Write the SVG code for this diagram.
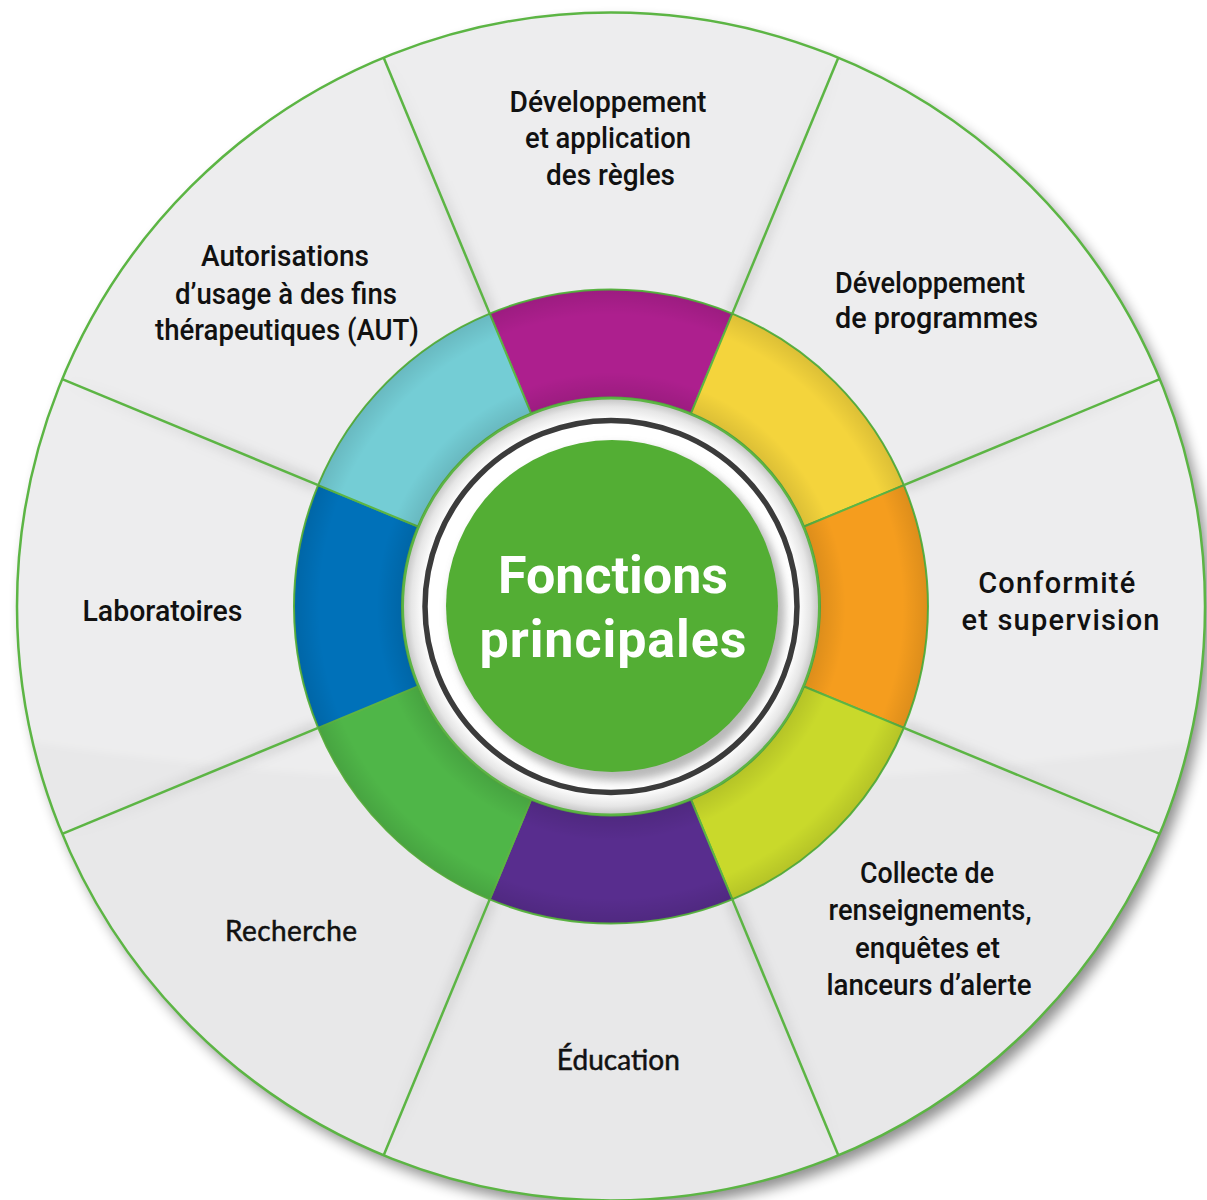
<svg xmlns="http://www.w3.org/2000/svg" width="1207" height="1200" viewBox="0 0 1207 1200">
<defs>
<style>
.lbl{font-family:Roboto,"DejaVu Sans",sans-serif;font-size:29px;font-weight:500;fill:#111;text-anchor:middle}
.lato{font-family:Lato,"Open Sans",sans-serif;font-size:28px;font-weight:400;fill:#111;stroke:#111;stroke-width:0.5;text-anchor:middle}
.title{font-family:Roboto,"DejaVu Sans",sans-serif;font-size:52px;font-weight:700;fill:#fff;text-anchor:middle}
.spoke{stroke:#5cb544;stroke-width:2.5;fill:none}
.seg{stroke:#5cb544;stroke-width:2}
.sh{stroke:#000;stroke-width:9;stroke-opacity:0.16}
</style>
<filter id="dshadow" x="-10%" y="-10%" width="125%" height="125%">
<feGaussianBlur in="SourceAlpha" stdDeviation="7"/>
<feOffset dx="6" dy="8" result="o"/>
<feComponentTransfer><feFuncA type="linear" slope="0.45"/></feComponentTransfer>
<feMerge><feMergeNode/><feMergeNode in="SourceGraphic"/></feMerge>
</filter>
<filter id="blur6" x="-20%" y="-20%" width="140%" height="140%"><feGaussianBlur stdDeviation="6"/></filter>
<filter id="blur4" x="-20%" y="-20%" width="140%" height="140%"><feGaussianBlur stdDeviation="4"/></filter>
<filter id="blur3" x="-20%" y="-20%" width="140%" height="140%"><feGaussianBlur stdDeviation="3"/></filter>
<clipPath id="discClip"><circle cx="611" cy="606.5" r="594"/></clipPath>
<clipPath id="innerBand"><circle cx="611" cy="606.5" r="183"/></clipPath>
<radialGradient id="fadeGrad" gradientUnits="userSpaceOnUse" cx="611" cy="606.5" r="594">
<stop offset="0.53" stop-color="#fff"/><stop offset="1" stop-color="#000"/>
</radialGradient>
<mask id="fade"><circle cx="611" cy="606.5" r="594" fill="url(#fadeGrad)"/></mask>
<radialGradient id="ringShade" gradientUnits="userSpaceOnUse" cx="611" cy="606.5" r="317">
<stop offset="0.66" stop-color="#000" stop-opacity="0.1"/>
<stop offset="0.74" stop-color="#000" stop-opacity="0"/>
<stop offset="0.92" stop-color="#000" stop-opacity="0"/>
<stop offset="1" stop-color="#000" stop-opacity="0.1"/>
</radialGradient>
<radialGradient id="discGrad" gradientUnits="userSpaceOnUse" cx="611" cy="606.5" r="208">
<stop offset="0" stop-color="#fff"/>
<stop offset="0.9" stop-color="#fff"/>
<stop offset="0.96" stop-color="#e6e6e6"/>
<stop offset="1" stop-color="#c4c4c4"/>
</radialGradient>
</defs>

<g id="background">
<circle cx="611" cy="606.5" r="594" fill="#e8e8e9" filter="url(#dshadow)"/>
<g clip-path="url(#discClip)">
<ellipse cx="611" cy="150" rx="1600" ry="635" fill="#fff" fill-opacity="0.22" filter="url(#blur3)"/>
</g>
<g mask="url(#fade)" filter="url(#blur6)">
<line class="sh" x1="489.69" y1="313.63" x2="383.69" y2="57.72"/>
<line class="sh" x1="732.31" y1="313.63" x2="838.31" y2="57.72"/>
<line class="sh" x1="903.87" y1="485.19" x2="1159.78" y2="379.19"/>
<line class="sh" x1="903.87" y1="727.81" x2="1159.78" y2="833.81"/>
<line class="sh" x1="732.31" y1="899.37" x2="838.31" y2="1155.28"/>
<line class="sh" x1="489.69" y1="899.37" x2="383.69" y2="1155.28"/>
<line class="sh" x1="318.13" y1="727.81" x2="62.22" y2="833.81"/>
<line class="sh" x1="318.13" y1="485.19" x2="62.22" y2="379.19"/>
</g>
</g>

<g id="connectors">
<line class="spoke" x1="489.69" y1="313.63" x2="383.69" y2="57.72"/>
<line class="spoke" x1="732.31" y1="313.63" x2="838.31" y2="57.72"/>
<line class="spoke" x1="903.87" y1="485.19" x2="1159.78" y2="379.19"/>
<line class="spoke" x1="903.87" y1="727.81" x2="1159.78" y2="833.81"/>
<line class="spoke" x1="732.31" y1="899.37" x2="838.31" y2="1155.28"/>
<line class="spoke" x1="489.69" y1="899.37" x2="383.69" y2="1155.28"/>
<line class="spoke" x1="318.13" y1="727.81" x2="62.22" y2="833.81"/>
<line class="spoke" x1="318.13" y1="485.19" x2="62.22" y2="379.19"/>
<circle class="spoke" cx="611" cy="606.5" r="594"/>
</g>

<g id="node-regles">
<path class="seg" fill="#ad1f8e" d="M489.69 313.63 A317 317 0 0 1 732.31 313.63 L690.98 413.41 A209 209 0 0 0 531.02 413.41 Z"/>
<text class="lbl" font-size="30" x="608" y="111.7" textLength="197" lengthAdjust="spacingAndGlyphs">Développement</text>
<text class="lbl" font-size="30" x="608" y="148.3" textLength="166" lengthAdjust="spacingAndGlyphs">et application</text>
<text class="lbl" font-size="30" x="610.5" y="185" textLength="129" lengthAdjust="spacingAndGlyphs">des règles</text>
</g>

<g id="node-programmes">
<path class="seg" fill="#f4d43c" d="M732.31 313.63 A317 317 0 0 1 903.87 485.19 L804.09 526.52 A209 209 0 0 0 690.98 413.41 Z"/>
<text class="lbl" font-size="28" x="835" y="293.3" style="text-anchor:start" textLength="190" lengthAdjust="spacingAndGlyphs">Développement</text>
<text class="lbl" font-size="28" x="835" y="328.3" style="text-anchor:start" textLength="203" lengthAdjust="spacingAndGlyphs">de programmes</text>
</g>

<g id="node-conformite">
<path class="seg" fill="#f59d1e" d="M903.87 485.19 A317 317 0 0 1 903.87 727.81 L804.09 686.48 A209 209 0 0 0 804.09 526.52 Z"/>
<text class="lbl" font-size="28" x="1056.7" y="593.3" textLength="157" lengthAdjust="spacing">Conformité</text>
<text class="lbl" font-size="28" x="1060.5" y="630" textLength="198" lengthAdjust="spacing">et supervision</text>
</g>

<g id="node-collecte">
<path class="seg" fill="#c9d92b" d="M903.87 727.81 A317 317 0 0 1 732.31 899.37 L690.98 799.59 A209 209 0 0 0 804.09 686.48 Z"/>
<text class="lbl" x="927" y="883.3" textLength="134" lengthAdjust="spacingAndGlyphs">Collecte de</text>
<text class="lbl" x="930" y="920" textLength="203" lengthAdjust="spacingAndGlyphs">renseignements,</text>
<text class="lbl" x="927.5" y="958.3" textLength="145" lengthAdjust="spacingAndGlyphs">enquêtes et</text>
<text class="lbl" x="929" y="995" textLength="205" lengthAdjust="spacingAndGlyphs">lanceurs d’alerte</text>
</g>

<g id="node-education">
<path class="seg" fill="#582d8e" d="M732.31 899.37 A317 317 0 0 1 489.69 899.37 L531.02 799.59 A209 209 0 0 0 690.98 799.59 Z"/>
<text class="lato" x="618.3" y="1070" textLength="123" lengthAdjust="spacing">Éducation</text>
</g>

<g id="node-recherche">
<path class="seg" fill="#4fb648" d="M489.69 899.37 A317 317 0 0 1 318.13 727.81 L417.91 686.48 A209 209 0 0 0 531.02 799.59 Z"/>
<text class="lato" x="291" y="940.7" textLength="132" lengthAdjust="spacing">Recherche</text>
</g>

<g id="node-laboratoires">
<path class="seg" fill="#0071b9" d="M318.13 727.81 A317 317 0 0 1 318.13 485.19 L417.91 526.52 A209 209 0 0 0 417.91 686.48 Z"/>
<text class="lbl" x="162.5" y="621" textLength="160" lengthAdjust="spacingAndGlyphs">Laboratoires</text>
</g>

<g id="node-aut">
<path class="seg" fill="#74cdd5" d="M318.13 485.19 A317 317 0 0 1 489.69 313.63 L531.02 413.41 A209 209 0 0 0 417.91 526.52 Z"/>
<text class="lbl" x="285" y="266" textLength="168" lengthAdjust="spacingAndGlyphs">Autorisations</text>
<text class="lbl" x="286" y="304" textLength="222" lengthAdjust="spacingAndGlyphs">d’usage à des fins</text>
<text class="lbl" x="287" y="340" textLength="264" lengthAdjust="spacingAndGlyphs">thérapeutiques (AUT)</text>
</g>

<g id="ring-shading">
<circle cx="611" cy="606.5" r="263" fill="none" stroke="url(#ringShade)" stroke-width="108"/>
</g>

<g id="center">
<circle cx="611" cy="606.5" r="208" fill="url(#discGrad)" stroke="#5cb544" stroke-width="2"/>
<g clip-path="url(#innerBand)">
<circle cx="617" cy="613" r="168" fill="#8a8a8a" fill-opacity="0.6" filter="url(#blur4)"/>
</g>
<circle cx="611" cy="606.5" r="186" fill="none" stroke="#3b3b3b" stroke-width="5.5"/>
<circle cx="612" cy="606" r="166" fill="#53ae34"/>
<text class="title" x="613" y="593.3" textLength="230" lengthAdjust="spacing">Fonctions</text>
<text class="title" x="613" y="656.7" textLength="267" lengthAdjust="spacing">principales</text>
</g>
</svg>
